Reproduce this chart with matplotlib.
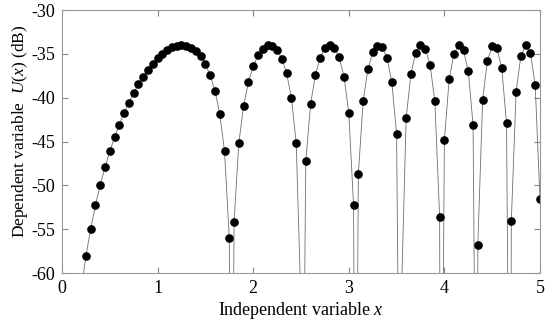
import numpy as np
import matplotlib.pyplot as plt

plt.rcParams['font.family'] = ['Liberation Serif', 'DejaVu Serif']
plt.rcParams['mathtext.fontset'] = 'custom'
plt.rcParams['mathtext.it'] = 'Liberation Serif:italic'
plt.rcParams['mathtext.rm'] = 'Liberation Serif'

# sampled points (dots), x step 0.05 from 0.25 to 5.00
x_pts = np.round(np.arange(0.25, 5.001, 0.05), 2)
u_pts = [
    -58.09, -54.93, -52.26, -49.95, -47.93, -46.13, -44.52, -43.06, -41.74, -40.55,
    -39.46, -38.48, -37.59, -36.80, -36.11, -35.50, -34.99, -34.58, -34.27, -34.07,
    -34.00, -34.06, -34.28, -34.68, -35.29, -36.18, -37.43, -39.20, -41.81, -46.08,
    -56.05, -54.15, -45.14, -40.91, -38.24, -36.42, -35.18, -34.40, -34.04, -34.07,
    -34.54, -35.54, -37.23, -40.03, -45.15, -63.58, -47.25, -40.76, -37.43, -35.46,
    -34.37, -34.00, -34.32, -35.41, -37.60, -41.70, -52.27, -48.70, -40.42, -36.76,
    -34.84, -34.05, -34.22, -35.46, -38.20, -44.14, -62.84, -42.32, -37.27, -34.90,
    -34.02, -34.40, -36.22, -40.42, -53.55, -44.81, -37.88, -34.99, -34.02, -34.58,
    -37.00, -43.07, -56.75, -40.22, -35.78, -34.13, -34.35, -36.63, -42.87, -54.11,
    -39.34, -35.24, -34.01, -34.90, -38.59, -51.57,
]

# extra points of the continuous curve: start below the axis and the nulls
start_x = [0.15, 0.20]
start_u = [-66.96, -61.96]
null_x = [1.772, 2.507, 3.070, 3.545, 3.963, 4.342, 4.690]
null_u = [-100] * len(null_x)

line_x = np.concatenate([start_x, x_pts, null_x])
line_u = np.concatenate([start_u, u_pts, null_u])
order = np.argsort(line_x)
line_x, line_u = line_x[order], line_u[order]

fig = plt.figure(figsize=(5.5, 3.24), dpi=100)
ax = fig.add_axes([0.1127, 0.157, 0.8691, 0.812])

ax.plot(line_x, line_u, color='#6e6e6e', lw=0.6)
ax.plot(x_pts, u_pts, 'o', color='black', ms=5.2)

ax.set_xlim(0, 5)
ax.set_ylim(-60, -30)
ax.set_xticks(range(0, 6))
ax.set_yticks(range(-60, -29, 5))
ax.set_yticklabels([str(v) for v in range(-60, -29, 5)])
ax.tick_params(direction='in', top=True, right=True, length=4,
               color='#888888', labelsize=13, pad=5)
for s in ax.spines.values():
    s.set_color('#999999')
    s.set_linewidth(0.8)

ax.set_xlabel('Independent variable $x$', fontsize=13, labelpad=2)
ax.set_ylabel('Dependent variable  $U(x)$ (dB)', fontsize=12.5)
ax.yaxis.set_label_coords(-0.066, 0.54)

fig.savefig('out.png', dpi=100)
